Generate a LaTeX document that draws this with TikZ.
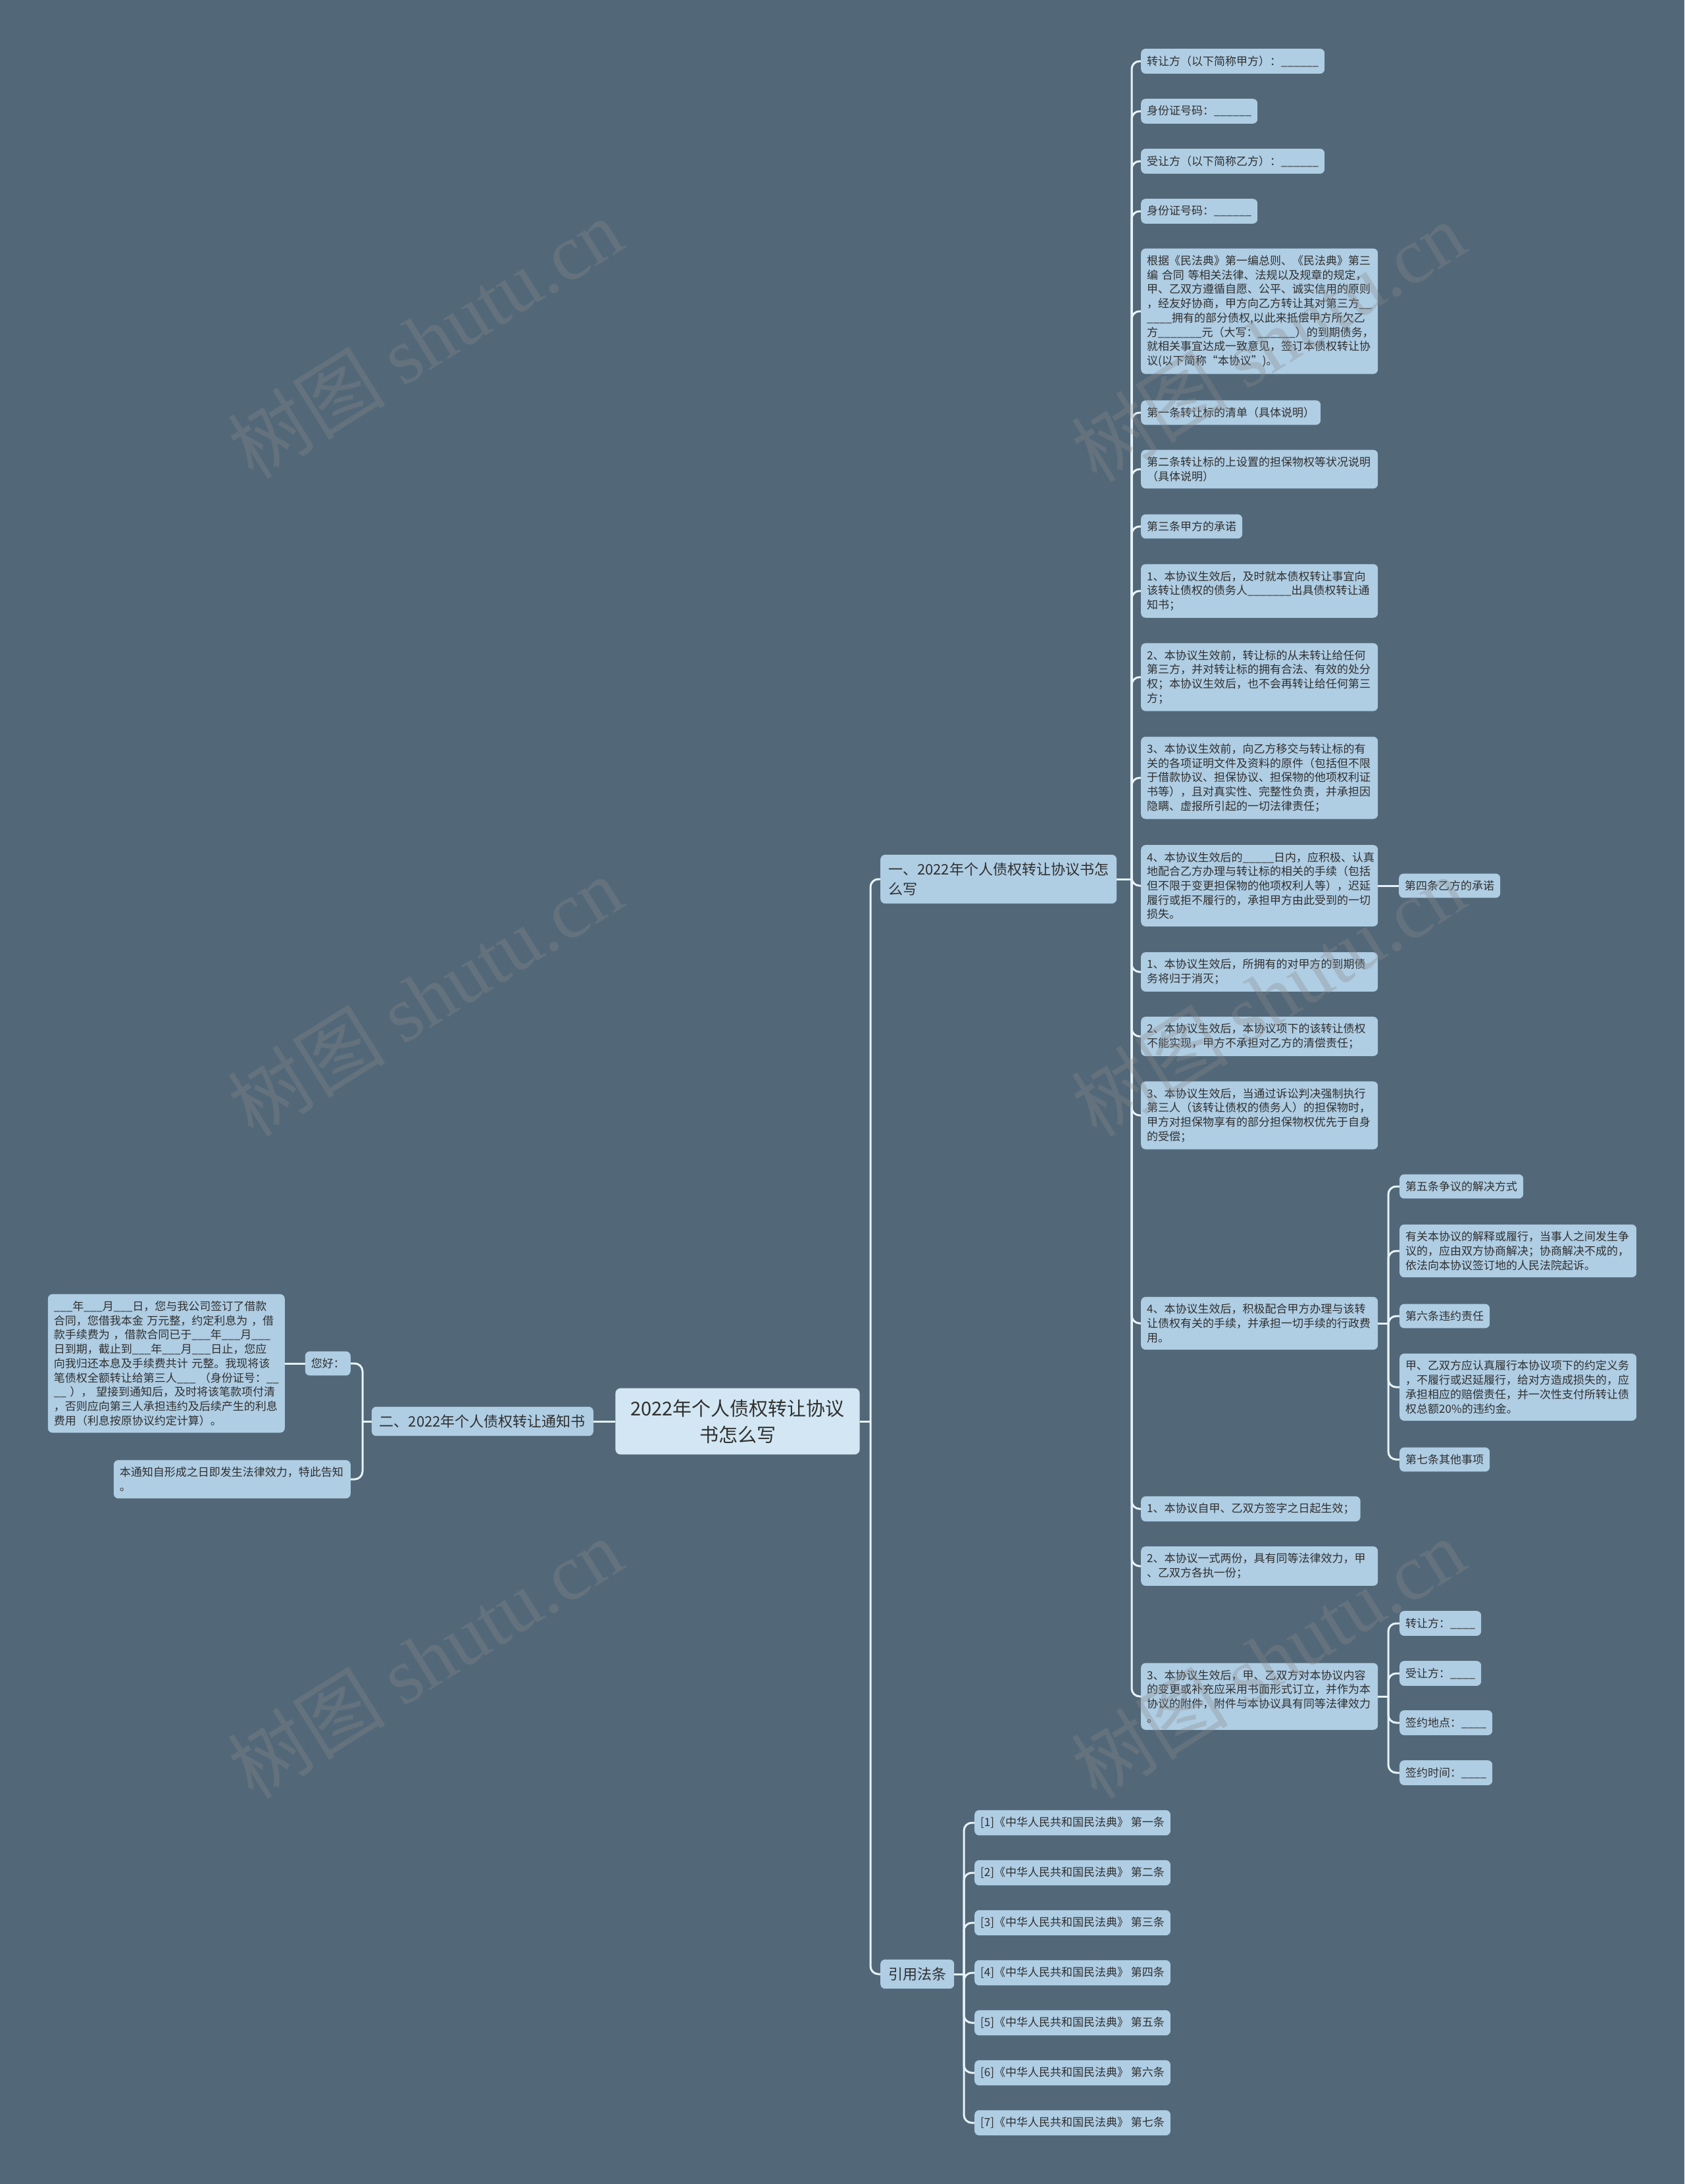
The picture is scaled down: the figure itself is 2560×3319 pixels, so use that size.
\documentclass[tikz,border=0pt]{standalone}
\usepackage{fontspec}
\setmainfont{Noto Sans CJK SC}
\newfontfamily\wmlatin{Liberation Serif}
\definecolor{bg}{HTML}{526878}
\definecolor{nodefill}{HTML}{AFCDE3}
\definecolor{rootfill}{HTML}{D2E7F3}
\definecolor{txt}{HTML}{303030}
\definecolor{linec}{HTML}{E6F2F8}
\definecolor{wmc}{HTML}{8A8A8A}
\tikzset{
  leaf/.style={fill=nodefill, rounded corners=7pt, text=txt,
    font=\fontsize{17pt}{21.7pt}\selectfont, inner xsep=9pt, inner ysep=10.5pt, anchor=west},
  wrap/.style={leaf, text width=342pt, align=left},
  branchnode/.style={fill=nodefill, rounded corners=7pt, text=txt,
    font=\fontsize{22pt}{30pt}\selectfont, inner xsep=12pt, inner ysep=12pt},
  rootnode/.style={fill=rootfill, rounded corners=8pt, text=txt,
    font=\fontsize{29pt}{40pt}\selectfont, inner xsep=23pt, inner ysep=17pt, align=center},
  conn/.style={draw=linec, line width=3pt, rounded corners=12pt},
  wm/.style={text=wmc, text opacity=0.32, font=\fontsize{120pt}{120pt}\selectfont, rotate=32}
}
\begin{document}
\begin{tikzpicture}[x=1pt,y=-1pt]
\useasboundingbox (0,0) rectangle (2560,3319);
\fill[bg] (0,0) rectangle (2560,3319);

% root and branches
\node[rootnode] (root) at (1121,2160) {2022年个人债权转让协议\\书怎么写};
\node[branchnode, anchor=west, align=left] (br1) at (1338,1336) {一、2022年个人债权转让协议书怎\\么写};
\node[branchnode, anchor=east] (br2) at (902,2160) {二、2022年个人债权转让通知书};
\node[branchnode, anchor=west] (br3) at (1338,3000) {引用法条};

% branch 1 children
\node[leaf] (a1) at (1734,93) {转让方（以下简称甲方）：\_\_\_\_\_\_};
\node[leaf] (a2) at (1734,169) {身份证号码：\_\_\_\_\_\_};
\node[leaf] (a3) at (1734,245) {受让方（以下简称乙方）：\_\_\_\_\_\_};
\node[leaf] (a4) at (1734,321) {身份证号码：\_\_\_\_\_\_};
\node[wrap] (a5) at (1734,473) {根据《民法典》第一编总则、《民法典》第三\\编~合同~等相关法律、法规以及规章的规定，\\甲、乙双方遵循自愿、公平、诚实信用的原则\\，经友好协商，甲方向乙方转让其对第三方\_\_\\\_\_\_\_拥有的部分债权,以此来抵偿甲方所欠乙\\方\_\_\_\_\_\_\_元（大写：\_\_\_\_\_\_）的到期债务，\\就相关事宜达成一致意见，签订本债权转让协\\议(以下简称“本协议”)。};
\node[leaf] (a6) at (1734,627) {第一条转让标的清单（具体说明）};
\node[wrap] (a7) at (1734,713) {第二条转让标的上设置的担保物权等状况说明\\（具体说明）};
\node[leaf] (a8) at (1734,800) {第三条甲方的承诺};
\node[wrap] (a9) at (1734,898) {1、本协议生效后，及时就本债权转让事宜向\\该转让债权的债务人\_\_\_\_\_\_\_出具债权转让通\\知书；};
\node[wrap] (a10) at (1734,1029) {2、本协议生效前，转让标的从未转让给任何\\第三方，并对转让标的拥有合法、有效的处分\\权；本协议生效后，也不会再转让给任何第三\\方；};
\node[wrap] (a11) at (1734,1182) {3、本协议生效前，向乙方移交与转让标的有\\关的各项证明文件及资料的原件（包括但不限\\于借款协议、担保协议、担保物的他项权利证\\书等），且对真实性、完整性负责，并承担因\\隐瞒、虚报所引起的一切法律责任；};
\node[wrap] (a12) at (1734,1346) {4、本协议生效后的\_\_\_\_\_日内，应积极、认真\\地配合乙方办理与转让标的相关的手续（包括\\但不限于变更担保物的他项权利人等），迟延\\履行或拒不履行的，承担甲方由此受到的一切\\损失。};
\node[wrap] (a13) at (1734,1477) {1、本协议生效后，所拥有的对甲方的到期债\\务将归于消灭；};
\node[wrap] (a14) at (1734,1575) {2、本协议生效后，本协议项下的该转让债权\\不能实现，甲方不承担对乙方的清偿责任；};
\node[wrap] (a15) at (1734,1695) {3、本协议生效后，当通过诉讼判决强制执行\\第三人（该转让债权的债务人）的担保物时，\\甲方对担保物享有的部分担保物权优先于自身\\的受偿；};
\node[wrap] (a16) at (1734,2011) {4、本协议生效后，积极配合甲方办理与该转\\让债权有关的手续，并承担一切手续的行政费\\用。};
\node[leaf] (a17) at (1734,2293) {1、本协议自甲、乙双方签字之日起生效；};
\node[wrap] (a18) at (1734,2380) {2、本协议一式两份，具有同等法律效力，甲\\、乙双方各执一份；};
\node[wrap] (a19) at (1734,2578) {3、本协议生效后，甲、乙双方对本协议内容\\的变更或补充应采用书面形式订立，并作为本\\协议的附件，附件与本协议具有同等法律效力\\。};

% grandchildren
\node[leaf] (c4) at (2126,1346) {第四条乙方的承诺};
\node[leaf] (e1) at (2127,1803) {第五条争议的解决方式};
\node[wrap] (e2) at (2127,1901) {有关本协议的解释或履行，当事人之间发生争\\议的，应由双方协商解决；协商解决不成的，\\依法向本协议签订地的人民法院起诉。};
\node[leaf] (e3) at (2127,2000) {第六条违约责任};
\node[wrap] (e4) at (2127,2108) {甲、乙双方应认真履行本协议项下的约定义务\\，不履行或迟延履行，给对方造成损失的，应\\承担相应的赔偿责任，并一次性支付所转让债\\权总额20\%的违约金。};
\node[leaf] (e5) at (2127,2218) {第七条其他事项};
\node[leaf] (f1) at (2127,2467) {转让方：\_\_\_\_};
\node[leaf] (f2) at (2127,2543) {受让方：\_\_\_\_};
\node[leaf] (f3) at (2127,2618) {签约地点：\_\_\_\_};
\node[leaf] (f4) at (2127,2694) {签约时间：\_\_\_\_};

% branch 2 children
\node[leaf, anchor=east] (l1) at (533,2072) {您好：};
\node[wrap, anchor=east] (l1b) at (433,2072) {\_\_\_年\_\_\_月\_\_\_日，您与我公司签订了借款\\合同，您借我本金~万元整，约定利息为~，借\\款手续费为~，借款合同已于\_\_\_年\_\_\_月\_\_\_\\日到期，截止到\_\_\_年\_\_\_月\_\_\_日止，您应\\向我归还本息及手续费共计~元整。我现将该\\笔债权全额转让给第三人\_\_\_~（身份证号：\_\_\\\_\_~）， 望接到通知后，及时将该笔款项付清\\，否则应向第三人承担违约及后续产生的利息\\费用（利息按原协议约定计算）。};
\node[wrap, anchor=east] (l2) at (533,2248) {本通知自形成之日即发生法律效力，特此告知\\。};

% citations
\foreach \i/\t in {1/一,2/二,3/三,4/四,5/五,6/六,7/七}{
  \node[leaf] (g\i) at (1481,{2770+76*(\i-1)}) {[\i]《中华人民共和国民法典》~第\t 条};
}

% connectors
\coordinate (b0) at (1323,0);
\coordinate (b1) at (1720,0);
\coordinate (b2) at (551,0);
\coordinate (b3) at (1465,0);
\coordinate (b4) at (2110,0);

\draw[conn] (root.east) -- (b0 |- root.east);
\foreach \c in {br1,br3} \draw[conn] (b0 |- root.east) |- (\c.west);
\draw[conn] (root.west) -- (br2.east);

\draw[conn] (br1.east) -- (b1 |- br1.east);
\foreach \c in {a1,a2,a3,a4,a5,a6,a7,a8,a9,a10,a11,a12,a13,a14,a15,a16,a17,a18,a19}
  \draw[conn] (b1 |- br1.east) |- (\c.west);

\draw[conn] (a12.east) -- (c4.west);

\draw[conn] (a16.east) -- (b4 |- a16.east);
\foreach \c in {e1,e2,e3,e4,e5} \draw[conn] (b4 |- a16.east) |- (\c.west);

\draw[conn] (a19.east) -- (b4 |- a19.east);
\foreach \c in {f1,f2,f3,f4} \draw[conn] (b4 |- a19.east) |- (\c.west);

\draw[conn] (br2.west) -- (b2 |- br2.west);
\foreach \c in {l1,l2} \draw[conn] (b2 |- br2.west) |- (\c.east);
\draw[conn] (l1.west) -- (l1b.east);

\draw[conn] (br3.east) -- (b3 |- br3.east);
\foreach \i in {1,...,7} \draw[conn] (b3 |- br3.east) |- (g\i.west);

% watermarks
\foreach \p/\q in {646/514,646/1514,646/2520,1927/519,1927/1514,1927/2520}
  \node[wm] (w\p\q) at (\p,\q) {树图~{\wmlatin shutu.cn}};
\end{tikzpicture}
\end{document}
